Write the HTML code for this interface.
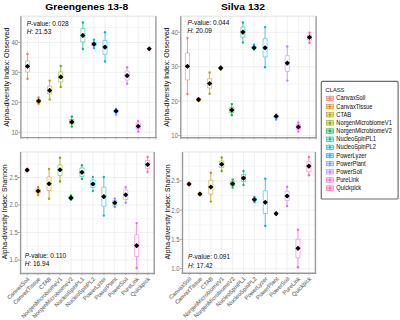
<!DOCTYPE html>
<html><head><meta charset="utf-8"><title>Alpha diversity</title>
<style>
html,body{margin:0;padding:0;background:#fff;}
body{width:400px;height:320px;overflow:hidden;}
svg{display:block;}
text{font-family:"Liberation Sans", sans-serif;}
.tk{font-size:6px;fill:#6e6e6e;text-anchor:end;}
.yl{fill:#111;stroke:#111;stroke-width:0.05px;}
.pv{font-size:6.5px;fill:#111;stroke:#111;stroke-width:0.03px;}
.xl{font-size:5.7px;fill:#6e6e6e;stroke:#6e6e6e;stroke-width:0.1px;}
.ti{font-size:10.2px;font-weight:bold;fill:#000;}
.lg{font-size:5.75px;fill:#1a1a1a;stroke:#1a1a1a;stroke-width:0.05px;}
</style></head>
<body>
<svg width="400" height="320" viewBox="0 0 400 320">
<rect x="0" y="0" width="400" height="320" fill="#fff"/>
<line x1="20.9" y1="117.33" x2="155.9" y2="117.33" stroke="#ececec" stroke-width="0.5"/>
<line x1="20.9" y1="87.4" x2="155.9" y2="87.4" stroke="#ececec" stroke-width="0.5"/>
<line x1="20.9" y1="57.47" x2="155.9" y2="57.47" stroke="#ececec" stroke-width="0.5"/>
<line x1="20.9" y1="27.53" x2="155.9" y2="27.53" stroke="#ececec" stroke-width="0.5"/>
<line x1="20.9" y1="132.3" x2="155.9" y2="132.3" stroke="#ececec" stroke-width="0.8"/>
<line x1="20.9" y1="102.37" x2="155.9" y2="102.37" stroke="#ececec" stroke-width="0.8"/>
<line x1="20.9" y1="72.43" x2="155.9" y2="72.43" stroke="#ececec" stroke-width="0.8"/>
<line x1="20.9" y1="42.5" x2="155.9" y2="42.5" stroke="#ececec" stroke-width="0.8"/>
<line x1="27.54" y1="16.2" x2="27.54" y2="137.6" stroke="#ececec" stroke-width="0.8"/>
<line x1="38.6" y1="16.2" x2="38.6" y2="137.6" stroke="#ececec" stroke-width="0.8"/>
<line x1="49.67" y1="16.2" x2="49.67" y2="137.6" stroke="#ececec" stroke-width="0.8"/>
<line x1="60.74" y1="16.2" x2="60.74" y2="137.6" stroke="#ececec" stroke-width="0.8"/>
<line x1="71.8" y1="16.2" x2="71.8" y2="137.6" stroke="#ececec" stroke-width="0.8"/>
<line x1="82.87" y1="16.2" x2="82.87" y2="137.6" stroke="#ececec" stroke-width="0.8"/>
<line x1="93.93" y1="16.2" x2="93.93" y2="137.6" stroke="#ececec" stroke-width="0.8"/>
<line x1="105" y1="16.2" x2="105" y2="137.6" stroke="#ececec" stroke-width="0.8"/>
<line x1="116.06" y1="16.2" x2="116.06" y2="137.6" stroke="#ececec" stroke-width="0.8"/>
<line x1="127.13" y1="16.2" x2="127.13" y2="137.6" stroke="#ececec" stroke-width="0.8"/>
<line x1="138.2" y1="16.2" x2="138.2" y2="137.6" stroke="#ececec" stroke-width="0.8"/>
<line x1="149.26" y1="16.2" x2="149.26" y2="137.6" stroke="#ececec" stroke-width="0.8"/>
<line x1="20.9" y1="16.2" x2="155.9" y2="16.2" stroke="#dcdcdc" stroke-width="0.8"/>
<line x1="155.9" y1="16.2" x2="155.9" y2="138.4" stroke="#9a9a9a" stroke-width="1.4"/>
<line x1="20.9" y1="16.2" x2="20.9" y2="138.4" stroke="#9a9a9a" stroke-width="1.4"/>
<line x1="20.1" y1="137.6" x2="156.7" y2="137.6" stroke="#9a9a9a" stroke-width="1.4"/>
<line x1="18.3" y1="132.3" x2="20.9" y2="132.3" stroke="#9a9a9a" stroke-width="0.8"/>
<text transform="translate(18.1,134.75) scale(1,1.15)" class="tk">10</text>
<line x1="18.3" y1="102.37" x2="20.9" y2="102.37" stroke="#9a9a9a" stroke-width="0.8"/>
<text transform="translate(18.1,104.82) scale(1,1.15)" class="tk">20</text>
<line x1="18.3" y1="72.43" x2="20.9" y2="72.43" stroke="#9a9a9a" stroke-width="0.8"/>
<text transform="translate(18.1,74.88) scale(1,1.15)" class="tk">30</text>
<line x1="18.3" y1="42.5" x2="20.9" y2="42.5" stroke="#9a9a9a" stroke-width="0.8"/>
<text transform="translate(18.1,44.95) scale(1,1.15)" class="tk">40</text>
<line x1="27.54" y1="137.6" x2="27.54" y2="139.2" stroke="#9a9a9a" stroke-width="0.8"/>
<line x1="38.6" y1="137.6" x2="38.6" y2="139.2" stroke="#9a9a9a" stroke-width="0.8"/>
<line x1="49.67" y1="137.6" x2="49.67" y2="139.2" stroke="#9a9a9a" stroke-width="0.8"/>
<line x1="60.74" y1="137.6" x2="60.74" y2="139.2" stroke="#9a9a9a" stroke-width="0.8"/>
<line x1="71.8" y1="137.6" x2="71.8" y2="139.2" stroke="#9a9a9a" stroke-width="0.8"/>
<line x1="82.87" y1="137.6" x2="82.87" y2="139.2" stroke="#9a9a9a" stroke-width="0.8"/>
<line x1="93.93" y1="137.6" x2="93.93" y2="139.2" stroke="#9a9a9a" stroke-width="0.8"/>
<line x1="105" y1="137.6" x2="105" y2="139.2" stroke="#9a9a9a" stroke-width="0.8"/>
<line x1="116.06" y1="137.6" x2="116.06" y2="139.2" stroke="#9a9a9a" stroke-width="0.8"/>
<line x1="127.13" y1="137.6" x2="127.13" y2="139.2" stroke="#9a9a9a" stroke-width="0.8"/>
<line x1="138.2" y1="137.6" x2="138.2" y2="139.2" stroke="#9a9a9a" stroke-width="0.8"/>
<line x1="149.26" y1="137.6" x2="149.26" y2="139.2" stroke="#9a9a9a" stroke-width="0.8"/>
<line x1="27.54" y1="54" x2="27.54" y2="61" stroke="#F8766D" stroke-width="0.7"/>
<line x1="27.54" y1="71.9" x2="27.54" y2="78.75" stroke="#F8766D" stroke-width="0.7"/>
<path d="M25.49 61L25.49 66.25L26.51 66.25L25.49 66.25L25.49 71.9L29.59 71.9L29.59 66.25L28.56 66.25L29.59 66.25L29.59 61Z" fill="#fff" fill-opacity="0.9" stroke="#F8766D" stroke-opacity="0.8" stroke-width="0.65" stroke-linejoin="round"/>
<line x1="25.49" y1="66.25" x2="29.59" y2="66.25" stroke="#F8766D" stroke-opacity="0.8" stroke-width="0.65"/>
<circle cx="27.54" cy="54" r="1.2" fill="#F8766D"/>
<circle cx="27.54" cy="78.75" r="1.2" fill="#F8766D"/>
<circle cx="27.54" cy="66.85" r="1.6" fill="#F8766D"/>
<path d="M27.54 63.7L30.09 66.25L27.54 68.8L24.99 66.25Z" fill="#000"/>
<line x1="38.6" y1="97.5" x2="38.6" y2="99.3" stroke="#DE8C00" stroke-width="0.7"/>
<line x1="38.6" y1="102.7" x2="38.6" y2="103.8" stroke="#DE8C00" stroke-width="0.7"/>
<path d="M36.55 99.3L36.55 101L37.58 101L36.55 101L36.55 102.7L40.65 102.7L40.65 101L39.63 101L40.65 101L40.65 99.3Z" fill="#fff" fill-opacity="0.9" stroke="#DE8C00" stroke-opacity="0.8" stroke-width="0.65" stroke-linejoin="round"/>
<line x1="36.55" y1="101" x2="40.65" y2="101" stroke="#DE8C00" stroke-opacity="0.8" stroke-width="0.65"/>
<circle cx="38.6" cy="97.5" r="1.2" fill="#DE8C00"/>
<circle cx="38.6" cy="103.8" r="1.2" fill="#DE8C00"/>
<circle cx="38.6" cy="101.6" r="1.6" fill="#DE8C00"/>
<path d="M38.6 98.45L41.15 101L38.6 103.55L36.05 101Z" fill="#000"/>
<line x1="49.67" y1="80.6" x2="49.67" y2="86.25" stroke="#B79F00" stroke-width="0.7"/>
<line x1="49.67" y1="94" x2="49.67" y2="99.4" stroke="#B79F00" stroke-width="0.7"/>
<path d="M47.62 86.25L47.62 90.4L48.65 90.4L47.62 90.4L47.62 94L51.72 94L51.72 90.4L50.7 90.4L51.72 90.4L51.72 86.25Z" fill="#fff" fill-opacity="0.9" stroke="#B79F00" stroke-opacity="0.8" stroke-width="0.65" stroke-linejoin="round"/>
<line x1="47.62" y1="90.4" x2="51.72" y2="90.4" stroke="#B79F00" stroke-opacity="0.8" stroke-width="0.65"/>
<circle cx="49.67" cy="80.6" r="1.2" fill="#B79F00"/>
<circle cx="49.67" cy="99.4" r="1.2" fill="#B79F00"/>
<circle cx="49.67" cy="91" r="1.6" fill="#B79F00"/>
<path d="M49.67 87.85L52.22 90.4L49.67 92.95L47.12 90.4Z" fill="#000"/>
<line x1="60.74" y1="66" x2="60.74" y2="71.9" stroke="#7CAE00" stroke-width="0.7"/>
<line x1="60.74" y1="81.9" x2="60.74" y2="86.9" stroke="#7CAE00" stroke-width="0.7"/>
<path d="M58.69 71.9L58.69 76.9L59.71 76.9L58.69 76.9L58.69 81.9L62.79 81.9L62.79 76.9L61.76 76.9L62.79 76.9L62.79 71.9Z" fill="#fff" fill-opacity="0.9" stroke="#7CAE00" stroke-opacity="0.8" stroke-width="0.65" stroke-linejoin="round"/>
<line x1="58.69" y1="76.9" x2="62.79" y2="76.9" stroke="#7CAE00" stroke-opacity="0.8" stroke-width="0.65"/>
<circle cx="60.74" cy="66" r="1.2" fill="#7CAE00"/>
<circle cx="60.74" cy="86.9" r="1.2" fill="#7CAE00"/>
<circle cx="60.74" cy="77.5" r="1.6" fill="#7CAE00"/>
<path d="M60.74 74.35L63.29 76.9L60.74 79.45L58.19 76.9Z" fill="#000"/>
<line x1="71.8" y1="116.6" x2="71.8" y2="119.5" stroke="#00BA38" stroke-width="0.7"/>
<line x1="71.8" y1="124" x2="71.8" y2="126.6" stroke="#00BA38" stroke-width="0.7"/>
<path d="M69.75 119.5L69.75 121.9L70.78 121.9L69.75 121.9L69.75 124L73.85 124L73.85 121.9L72.83 121.9L73.85 121.9L73.85 119.5Z" fill="#fff" fill-opacity="0.9" stroke="#00BA38" stroke-opacity="0.8" stroke-width="0.65" stroke-linejoin="round"/>
<line x1="69.75" y1="121.9" x2="73.85" y2="121.9" stroke="#00BA38" stroke-opacity="0.8" stroke-width="0.65"/>
<circle cx="71.8" cy="116.6" r="1.2" fill="#00BA38"/>
<circle cx="71.8" cy="126.6" r="1.2" fill="#00BA38"/>
<circle cx="71.8" cy="122.5" r="1.6" fill="#00BA38"/>
<path d="M71.8 119.35L74.35 121.9L71.8 124.45L69.25 121.9Z" fill="#000"/>
<line x1="82.87" y1="22.5" x2="82.87" y2="28.5" stroke="#00C08B" stroke-width="0.7"/>
<line x1="82.87" y1="41.9" x2="82.87" y2="49" stroke="#00C08B" stroke-width="0.7"/>
<path d="M80.82 28.5L80.82 35.4L81.84 35.4L80.82 35.4L80.82 41.9L84.92 41.9L84.92 35.4L83.89 35.4L84.92 35.4L84.92 28.5Z" fill="#fff" fill-opacity="0.9" stroke="#00C08B" stroke-opacity="0.8" stroke-width="0.65" stroke-linejoin="round"/>
<line x1="80.82" y1="35.4" x2="84.92" y2="35.4" stroke="#00C08B" stroke-opacity="0.8" stroke-width="0.65"/>
<circle cx="82.87" cy="22.5" r="1.2" fill="#00C08B"/>
<circle cx="82.87" cy="49" r="1.2" fill="#00C08B"/>
<circle cx="82.87" cy="36" r="1.6" fill="#00C08B"/>
<path d="M82.87 32.85L85.42 35.4L82.87 37.95L80.32 35.4Z" fill="#000"/>
<line x1="93.93" y1="39.75" x2="93.93" y2="42" stroke="#00BFC4" stroke-width="0.7"/>
<line x1="93.93" y1="46" x2="93.93" y2="48.1" stroke="#00BFC4" stroke-width="0.7"/>
<path d="M91.88 42L91.88 44.1L92.91 44.1L91.88 44.1L91.88 46L95.98 46L95.98 44.1L94.96 44.1L95.98 44.1L95.98 42Z" fill="#fff" fill-opacity="0.9" stroke="#00BFC4" stroke-opacity="0.8" stroke-width="0.65" stroke-linejoin="round"/>
<line x1="91.88" y1="44.1" x2="95.98" y2="44.1" stroke="#00BFC4" stroke-opacity="0.8" stroke-width="0.65"/>
<circle cx="93.93" cy="39.75" r="1.2" fill="#00BFC4"/>
<circle cx="93.93" cy="48.1" r="1.2" fill="#00BFC4"/>
<circle cx="93.93" cy="44.7" r="1.6" fill="#00BFC4"/>
<path d="M93.93 41.55L96.48 44.1L93.93 46.65L91.38 44.1Z" fill="#000"/>
<line x1="105" y1="32.25" x2="105" y2="40.6" stroke="#00B4F0" stroke-width="0.7"/>
<line x1="105" y1="54.4" x2="105" y2="61.5" stroke="#00B4F0" stroke-width="0.7"/>
<path d="M102.95 40.6L102.95 47.1L103.97 47.1L102.95 47.1L102.95 54.4L107.05 54.4L107.05 47.1L106.02 47.1L107.05 47.1L107.05 40.6Z" fill="#fff" fill-opacity="0.9" stroke="#00B4F0" stroke-opacity="0.8" stroke-width="0.65" stroke-linejoin="round"/>
<line x1="102.95" y1="47.1" x2="107.05" y2="47.1" stroke="#00B4F0" stroke-opacity="0.8" stroke-width="0.65"/>
<circle cx="105" cy="32.25" r="1.2" fill="#00B4F0"/>
<circle cx="105" cy="61.5" r="1.2" fill="#00B4F0"/>
<circle cx="105" cy="47.7" r="1.6" fill="#00B4F0"/>
<path d="M105 44.55L107.55 47.1L105 49.65L102.45 47.1Z" fill="#000"/>
<line x1="116.06" y1="109" x2="116.06" y2="110" stroke="#619CFF" stroke-width="0.7"/>
<line x1="116.06" y1="112.5" x2="116.06" y2="114.5" stroke="#619CFF" stroke-width="0.7"/>
<path d="M114.01 110L114.01 111L115.04 111L114.01 111L114.01 112.5L118.11 112.5L118.11 111L117.09 111L118.11 111L118.11 110Z" fill="#fff" fill-opacity="0.9" stroke="#619CFF" stroke-opacity="0.8" stroke-width="0.65" stroke-linejoin="round"/>
<line x1="114.01" y1="111" x2="118.11" y2="111" stroke="#619CFF" stroke-opacity="0.8" stroke-width="0.65"/>
<circle cx="116.06" cy="109" r="1.2" fill="#619CFF"/>
<circle cx="116.06" cy="114.5" r="1.2" fill="#619CFF"/>
<circle cx="116.06" cy="111.6" r="1.6" fill="#619CFF"/>
<path d="M116.06 108.45L118.61 111L116.06 113.55L113.51 111Z" fill="#000"/>
<line x1="127.13" y1="67.25" x2="127.13" y2="71" stroke="#C77CFF" stroke-width="0.7"/>
<line x1="127.13" y1="80" x2="127.13" y2="83.75" stroke="#C77CFF" stroke-width="0.7"/>
<path d="M125.08 71L125.08 75.6L126.1 75.6L125.08 75.6L125.08 80L129.18 80L129.18 75.6L128.15 75.6L129.18 75.6L129.18 71Z" fill="#fff" fill-opacity="0.9" stroke="#C77CFF" stroke-opacity="0.8" stroke-width="0.65" stroke-linejoin="round"/>
<line x1="125.08" y1="75.6" x2="129.18" y2="75.6" stroke="#C77CFF" stroke-opacity="0.8" stroke-width="0.65"/>
<circle cx="127.13" cy="67.25" r="1.2" fill="#C77CFF"/>
<circle cx="127.13" cy="83.75" r="1.2" fill="#C77CFF"/>
<circle cx="127.13" cy="76.2" r="1.6" fill="#C77CFF"/>
<path d="M127.13 73.05L129.68 75.6L127.13 78.15L124.58 75.6Z" fill="#000"/>
<line x1="138.2" y1="120.9" x2="138.2" y2="123" stroke="#F564E3" stroke-width="0.7"/>
<line x1="138.2" y1="129" x2="138.2" y2="131.6" stroke="#F564E3" stroke-width="0.7"/>
<path d="M136.15 123L136.15 126.25L137.17 126.25L136.15 126.25L136.15 129L140.25 129L140.25 126.25L139.22 126.25L140.25 126.25L140.25 123Z" fill="#fff" fill-opacity="0.9" stroke="#F564E3" stroke-opacity="0.8" stroke-width="0.65" stroke-linejoin="round"/>
<line x1="136.15" y1="126.25" x2="140.25" y2="126.25" stroke="#F564E3" stroke-opacity="0.8" stroke-width="0.65"/>
<circle cx="138.2" cy="120.9" r="1.2" fill="#F564E3"/>
<circle cx="138.2" cy="131.6" r="1.2" fill="#F564E3"/>
<circle cx="138.2" cy="126.85" r="1.6" fill="#F564E3"/>
<path d="M138.2 123.7L140.75 126.25L138.2 128.8L135.65 126.25Z" fill="#000"/>
<circle cx="149.26" cy="49.35" r="1.6" fill="#FF64B0"/>
<path d="M149.26 46.2L151.81 48.75L149.26 51.3L146.71 48.75Z" fill="#000"/>
<text transform="translate(9.3,77.2) rotate(-90)" text-anchor="middle" class="yl" font-size="7.0">Alpha-diversity Index: Observed</text>
<text x="26.7" y="26.4" class="pv"><tspan font-style="italic">P</tspan>-value: 0.028</text>
<text x="26.7" y="34.3" class="pv"><tspan font-style="italic">H</tspan>: 21.53</text>
<line x1="180.8" y1="118.3" x2="316.1" y2="118.3" stroke="#ececec" stroke-width="0.5"/>
<line x1="180.8" y1="83.9" x2="316.1" y2="83.9" stroke="#ececec" stroke-width="0.5"/>
<line x1="180.8" y1="49.5" x2="316.1" y2="49.5" stroke="#ececec" stroke-width="0.5"/>
<line x1="180.8" y1="135.5" x2="316.1" y2="135.5" stroke="#ececec" stroke-width="0.8"/>
<line x1="180.8" y1="101.1" x2="316.1" y2="101.1" stroke="#ececec" stroke-width="0.8"/>
<line x1="180.8" y1="66.7" x2="316.1" y2="66.7" stroke="#ececec" stroke-width="0.8"/>
<line x1="180.8" y1="32.3" x2="316.1" y2="32.3" stroke="#ececec" stroke-width="0.8"/>
<line x1="187.45" y1="16.2" x2="187.45" y2="137.7" stroke="#ececec" stroke-width="0.8"/>
<line x1="198.54" y1="16.2" x2="198.54" y2="137.7" stroke="#ececec" stroke-width="0.8"/>
<line x1="209.63" y1="16.2" x2="209.63" y2="137.7" stroke="#ececec" stroke-width="0.8"/>
<line x1="220.72" y1="16.2" x2="220.72" y2="137.7" stroke="#ececec" stroke-width="0.8"/>
<line x1="231.81" y1="16.2" x2="231.81" y2="137.7" stroke="#ececec" stroke-width="0.8"/>
<line x1="242.9" y1="16.2" x2="242.9" y2="137.7" stroke="#ececec" stroke-width="0.8"/>
<line x1="254" y1="16.2" x2="254" y2="137.7" stroke="#ececec" stroke-width="0.8"/>
<line x1="265.09" y1="16.2" x2="265.09" y2="137.7" stroke="#ececec" stroke-width="0.8"/>
<line x1="276.18" y1="16.2" x2="276.18" y2="137.7" stroke="#ececec" stroke-width="0.8"/>
<line x1="287.27" y1="16.2" x2="287.27" y2="137.7" stroke="#ececec" stroke-width="0.8"/>
<line x1="298.36" y1="16.2" x2="298.36" y2="137.7" stroke="#ececec" stroke-width="0.8"/>
<line x1="309.45" y1="16.2" x2="309.45" y2="137.7" stroke="#ececec" stroke-width="0.8"/>
<line x1="180.8" y1="16.2" x2="316.1" y2="16.2" stroke="#dcdcdc" stroke-width="0.8"/>
<line x1="316.1" y1="16.2" x2="316.1" y2="138.5" stroke="#9a9a9a" stroke-width="1.4"/>
<line x1="180.8" y1="16.2" x2="180.8" y2="138.5" stroke="#9a9a9a" stroke-width="1.4"/>
<line x1="180" y1="137.7" x2="316.9" y2="137.7" stroke="#9a9a9a" stroke-width="1.4"/>
<line x1="178.2" y1="135.5" x2="180.8" y2="135.5" stroke="#9a9a9a" stroke-width="0.8"/>
<text transform="translate(178,137.95) scale(1,1.15)" class="tk">10</text>
<line x1="178.2" y1="101.1" x2="180.8" y2="101.1" stroke="#9a9a9a" stroke-width="0.8"/>
<text transform="translate(178,103.55) scale(1,1.15)" class="tk">20</text>
<line x1="178.2" y1="66.7" x2="180.8" y2="66.7" stroke="#9a9a9a" stroke-width="0.8"/>
<text transform="translate(178,69.15) scale(1,1.15)" class="tk">30</text>
<line x1="178.2" y1="32.3" x2="180.8" y2="32.3" stroke="#9a9a9a" stroke-width="0.8"/>
<text transform="translate(178,34.75) scale(1,1.15)" class="tk">40</text>
<line x1="187.45" y1="137.7" x2="187.45" y2="139.3" stroke="#9a9a9a" stroke-width="0.8"/>
<line x1="198.54" y1="137.7" x2="198.54" y2="139.3" stroke="#9a9a9a" stroke-width="0.8"/>
<line x1="209.63" y1="137.7" x2="209.63" y2="139.3" stroke="#9a9a9a" stroke-width="0.8"/>
<line x1="220.72" y1="137.7" x2="220.72" y2="139.3" stroke="#9a9a9a" stroke-width="0.8"/>
<line x1="231.81" y1="137.7" x2="231.81" y2="139.3" stroke="#9a9a9a" stroke-width="0.8"/>
<line x1="242.9" y1="137.7" x2="242.9" y2="139.3" stroke="#9a9a9a" stroke-width="0.8"/>
<line x1="254" y1="137.7" x2="254" y2="139.3" stroke="#9a9a9a" stroke-width="0.8"/>
<line x1="265.09" y1="137.7" x2="265.09" y2="139.3" stroke="#9a9a9a" stroke-width="0.8"/>
<line x1="276.18" y1="137.7" x2="276.18" y2="139.3" stroke="#9a9a9a" stroke-width="0.8"/>
<line x1="287.27" y1="137.7" x2="287.27" y2="139.3" stroke="#9a9a9a" stroke-width="0.8"/>
<line x1="298.36" y1="137.7" x2="298.36" y2="139.3" stroke="#9a9a9a" stroke-width="0.8"/>
<line x1="309.45" y1="137.7" x2="309.45" y2="139.3" stroke="#9a9a9a" stroke-width="0.8"/>
<line x1="187.45" y1="38.1" x2="187.45" y2="53" stroke="#F8766D" stroke-width="0.7"/>
<line x1="187.45" y1="80" x2="187.45" y2="94" stroke="#F8766D" stroke-width="0.7"/>
<path d="M185.4 53L185.4 66.25L186.43 66.25L185.4 66.25L185.4 80L189.5 80L189.5 66.25L188.48 66.25L189.5 66.25L189.5 53Z" fill="#fff" fill-opacity="0.9" stroke="#F8766D" stroke-opacity="0.8" stroke-width="0.65" stroke-linejoin="round"/>
<line x1="185.4" y1="66.25" x2="189.5" y2="66.25" stroke="#F8766D" stroke-opacity="0.8" stroke-width="0.65"/>
<circle cx="187.45" cy="38.1" r="1.2" fill="#F8766D"/>
<circle cx="187.45" cy="94" r="1.2" fill="#F8766D"/>
<circle cx="187.45" cy="66.85" r="1.6" fill="#F8766D"/>
<path d="M187.45 63.7L190 66.25L187.45 68.8L184.9 66.25Z" fill="#000"/>
<line x1="198.54" y1="98.6" x2="198.54" y2="99" stroke="#DE8C00" stroke-width="0.7"/>
<line x1="198.54" y1="100.2" x2="198.54" y2="100.6" stroke="#DE8C00" stroke-width="0.7"/>
<path d="M196.49 99L196.49 99.6L197.52 99.6L196.49 99.6L196.49 100.2L200.59 100.2L200.59 99.6L199.57 99.6L200.59 99.6L200.59 99Z" fill="#fff" fill-opacity="0.9" stroke="#DE8C00" stroke-opacity="0.8" stroke-width="0.65" stroke-linejoin="round"/>
<line x1="196.49" y1="99.6" x2="200.59" y2="99.6" stroke="#DE8C00" stroke-opacity="0.8" stroke-width="0.65"/>
<circle cx="198.54" cy="98.6" r="1.2" fill="#DE8C00"/>
<circle cx="198.54" cy="100.6" r="1.2" fill="#DE8C00"/>
<circle cx="198.54" cy="100.2" r="1.6" fill="#DE8C00"/>
<circle cx="198.54" cy="99.6" r="2.35" fill="#DE8C00" fill-opacity="0.6"/>
<path d="M198.54 97.05L201.09 99.6L198.54 102.15L195.99 99.6Z" fill="#000"/>
<line x1="209.63" y1="72.5" x2="209.63" y2="78.75" stroke="#B79F00" stroke-width="0.7"/>
<line x1="209.63" y1="88.1" x2="209.63" y2="93.75" stroke="#B79F00" stroke-width="0.7"/>
<path d="M207.58 78.75L207.58 83.5L208.61 83.5L207.58 83.5L207.58 88.1L211.68 88.1L211.68 83.5L210.66 83.5L211.68 83.5L211.68 78.75Z" fill="#fff" fill-opacity="0.9" stroke="#B79F00" stroke-opacity="0.8" stroke-width="0.65" stroke-linejoin="round"/>
<line x1="207.58" y1="83.5" x2="211.68" y2="83.5" stroke="#B79F00" stroke-opacity="0.8" stroke-width="0.65"/>
<circle cx="209.63" cy="72.5" r="1.2" fill="#B79F00"/>
<circle cx="209.63" cy="93.75" r="1.2" fill="#B79F00"/>
<circle cx="209.63" cy="84.1" r="1.6" fill="#B79F00"/>
<path d="M209.63 80.95L212.18 83.5L209.63 86.05L207.08 83.5Z" fill="#000"/>
<line x1="220.72" y1="66.5" x2="220.72" y2="67.3" stroke="#7CAE00" stroke-width="0.7"/>
<line x1="220.72" y1="68.9" x2="220.72" y2="69.6" stroke="#7CAE00" stroke-width="0.7"/>
<path d="M218.67 67.3L218.67 68.1L219.7 68.1L218.67 68.1L218.67 68.9L222.77 68.9L222.77 68.1L221.75 68.1L222.77 68.1L222.77 67.3Z" fill="#fff" fill-opacity="0.9" stroke="#7CAE00" stroke-opacity="0.8" stroke-width="0.65" stroke-linejoin="round"/>
<line x1="218.67" y1="68.1" x2="222.77" y2="68.1" stroke="#7CAE00" stroke-opacity="0.8" stroke-width="0.65"/>
<circle cx="220.72" cy="66.5" r="1.2" fill="#7CAE00"/>
<circle cx="220.72" cy="69.6" r="1.2" fill="#7CAE00"/>
<circle cx="220.72" cy="68.7" r="1.6" fill="#7CAE00"/>
<path d="M220.72 65.55L223.27 68.1L220.72 70.65L218.17 68.1Z" fill="#000"/>
<line x1="231.81" y1="104.1" x2="231.81" y2="107.5" stroke="#00BA38" stroke-width="0.7"/>
<line x1="231.81" y1="112.5" x2="231.81" y2="115" stroke="#00BA38" stroke-width="0.7"/>
<path d="M229.76 107.5L229.76 110L230.79 110L229.76 110L229.76 112.5L233.86 112.5L233.86 110L232.84 110L233.86 110L233.86 107.5Z" fill="#fff" fill-opacity="0.9" stroke="#00BA38" stroke-opacity="0.8" stroke-width="0.65" stroke-linejoin="round"/>
<line x1="229.76" y1="110" x2="233.86" y2="110" stroke="#00BA38" stroke-opacity="0.8" stroke-width="0.65"/>
<circle cx="231.81" cy="104.1" r="1.2" fill="#00BA38"/>
<circle cx="231.81" cy="115" r="1.2" fill="#00BA38"/>
<circle cx="231.81" cy="110.6" r="1.6" fill="#00BA38"/>
<path d="M231.81 107.45L234.36 110L231.81 112.55L229.26 110Z" fill="#000"/>
<line x1="242.9" y1="22.5" x2="242.9" y2="26.9" stroke="#00C08B" stroke-width="0.7"/>
<line x1="242.9" y1="37.25" x2="242.9" y2="42.5" stroke="#00C08B" stroke-width="0.7"/>
<path d="M240.85 26.9L240.85 32.1L241.88 32.1L240.85 32.1L240.85 37.25L244.95 37.25L244.95 32.1L243.93 32.1L244.95 32.1L244.95 26.9Z" fill="#fff" fill-opacity="0.9" stroke="#00C08B" stroke-opacity="0.8" stroke-width="0.65" stroke-linejoin="round"/>
<line x1="240.85" y1="32.1" x2="244.95" y2="32.1" stroke="#00C08B" stroke-opacity="0.8" stroke-width="0.65"/>
<circle cx="242.9" cy="22.5" r="1.2" fill="#00C08B"/>
<circle cx="242.9" cy="42.5" r="1.2" fill="#00C08B"/>
<circle cx="242.9" cy="32.7" r="1.6" fill="#00C08B"/>
<path d="M242.9 29.55L245.45 32.1L242.9 34.65L240.35 32.1Z" fill="#000"/>
<line x1="254" y1="44.75" x2="254" y2="46.3" stroke="#00BFC4" stroke-width="0.7"/>
<line x1="254" y1="48.6" x2="254" y2="49.4" stroke="#00BFC4" stroke-width="0.7"/>
<path d="M251.95 46.3L251.95 47.75L252.97 47.75L251.95 47.75L251.95 48.6L256.05 48.6L256.05 47.75L255.02 47.75L256.05 47.75L256.05 46.3Z" fill="#fff" fill-opacity="0.9" stroke="#00BFC4" stroke-opacity="0.8" stroke-width="0.65" stroke-linejoin="round"/>
<line x1="251.95" y1="47.75" x2="256.05" y2="47.75" stroke="#00BFC4" stroke-opacity="0.8" stroke-width="0.65"/>
<circle cx="254" cy="44.75" r="1.2" fill="#00BFC4"/>
<circle cx="254" cy="49.4" r="1.2" fill="#00BFC4"/>
<circle cx="254" cy="48.35" r="1.6" fill="#00BFC4"/>
<path d="M254 45.2L256.55 47.75L254 50.3L251.45 47.75Z" fill="#000"/>
<line x1="265.09" y1="27.1" x2="265.09" y2="38.75" stroke="#00B4F0" stroke-width="0.7"/>
<line x1="265.09" y1="56.9" x2="265.09" y2="67.25" stroke="#00B4F0" stroke-width="0.7"/>
<path d="M263.04 38.75L263.04 47.75L264.06 47.75L263.04 47.75L263.04 56.9L267.14 56.9L267.14 47.75L266.11 47.75L267.14 47.75L267.14 38.75Z" fill="#fff" fill-opacity="0.9" stroke="#00B4F0" stroke-opacity="0.8" stroke-width="0.65" stroke-linejoin="round"/>
<line x1="263.04" y1="47.75" x2="267.14" y2="47.75" stroke="#00B4F0" stroke-opacity="0.8" stroke-width="0.65"/>
<circle cx="265.09" cy="27.1" r="1.2" fill="#00B4F0"/>
<circle cx="265.09" cy="67.25" r="1.2" fill="#00B4F0"/>
<circle cx="265.09" cy="48.35" r="1.6" fill="#00B4F0"/>
<path d="M265.09 45.2L267.64 47.75L265.09 50.3L262.54 47.75Z" fill="#000"/>
<line x1="276.18" y1="114.8" x2="276.18" y2="115.5" stroke="#619CFF" stroke-width="0.7"/>
<line x1="276.18" y1="118" x2="276.18" y2="119.6" stroke="#619CFF" stroke-width="0.7"/>
<path d="M274.13 115.5L274.13 116.25L275.15 116.25L274.13 116.25L274.13 118L278.23 118L278.23 116.25L277.2 116.25L278.23 116.25L278.23 115.5Z" fill="#fff" fill-opacity="0.9" stroke="#619CFF" stroke-opacity="0.8" stroke-width="0.65" stroke-linejoin="round"/>
<line x1="274.13" y1="116.25" x2="278.23" y2="116.25" stroke="#619CFF" stroke-opacity="0.8" stroke-width="0.65"/>
<circle cx="276.18" cy="114.8" r="1.2" fill="#619CFF"/>
<circle cx="276.18" cy="119.6" r="1.2" fill="#619CFF"/>
<circle cx="276.18" cy="116.85" r="1.6" fill="#619CFF"/>
<path d="M276.18 113.7L278.73 116.25L276.18 118.8L273.63 116.25Z" fill="#000"/>
<line x1="287.27" y1="46.5" x2="287.27" y2="55.6" stroke="#C77CFF" stroke-width="0.7"/>
<line x1="287.27" y1="71.5" x2="287.27" y2="80.6" stroke="#C77CFF" stroke-width="0.7"/>
<path d="M285.22 55.6L285.22 63.1L286.24 63.1L285.22 63.1L285.22 71.5L289.32 71.5L289.32 63.1L288.29 63.1L289.32 63.1L289.32 55.6Z" fill="#fff" fill-opacity="0.9" stroke="#C77CFF" stroke-opacity="0.8" stroke-width="0.65" stroke-linejoin="round"/>
<line x1="285.22" y1="63.1" x2="289.32" y2="63.1" stroke="#C77CFF" stroke-opacity="0.8" stroke-width="0.65"/>
<circle cx="287.27" cy="46.5" r="1.2" fill="#C77CFF"/>
<circle cx="287.27" cy="80.6" r="1.2" fill="#C77CFF"/>
<circle cx="287.27" cy="63.7" r="1.6" fill="#C77CFF"/>
<path d="M287.27 60.55L289.82 63.1L287.27 65.65L284.72 63.1Z" fill="#000"/>
<line x1="298.36" y1="122.5" x2="298.36" y2="124.5" stroke="#F564E3" stroke-width="0.7"/>
<line x1="298.36" y1="129.5" x2="298.36" y2="131.5" stroke="#F564E3" stroke-width="0.7"/>
<path d="M296.31 124.5L296.31 126.9L297.33 126.9L296.31 126.9L296.31 129.5L300.41 129.5L300.41 126.9L299.38 126.9L300.41 126.9L300.41 124.5Z" fill="#fff" fill-opacity="0.9" stroke="#F564E3" stroke-opacity="0.8" stroke-width="0.65" stroke-linejoin="round"/>
<line x1="296.31" y1="126.9" x2="300.41" y2="126.9" stroke="#F564E3" stroke-opacity="0.8" stroke-width="0.65"/>
<circle cx="298.36" cy="122.5" r="1.2" fill="#F564E3"/>
<circle cx="298.36" cy="131.5" r="1.2" fill="#F564E3"/>
<circle cx="298.36" cy="127.5" r="1.6" fill="#F564E3"/>
<path d="M298.36 124.35L300.91 126.9L298.36 129.45L295.81 126.9Z" fill="#000"/>
<line x1="309.45" y1="32.65" x2="309.45" y2="35" stroke="#FF64B0" stroke-width="0.7"/>
<line x1="309.45" y1="40" x2="309.45" y2="42.8" stroke="#FF64B0" stroke-width="0.7"/>
<path d="M307.4 35L307.4 37.3L308.42 37.3L307.4 37.3L307.4 40L311.5 40L311.5 37.3L310.47 37.3L311.5 37.3L311.5 35Z" fill="#fff" fill-opacity="0.9" stroke="#FF64B0" stroke-opacity="0.8" stroke-width="0.65" stroke-linejoin="round"/>
<line x1="307.4" y1="37.3" x2="311.5" y2="37.3" stroke="#FF64B0" stroke-opacity="0.8" stroke-width="0.65"/>
<circle cx="309.45" cy="32.65" r="1.2" fill="#FF64B0"/>
<circle cx="309.45" cy="42.8" r="1.2" fill="#FF64B0"/>
<circle cx="309.45" cy="37.9" r="1.6" fill="#FF64B0"/>
<path d="M309.45 34.75L312 37.3L309.45 39.85L306.9 37.3Z" fill="#000"/>
<text transform="translate(169.2,77.1) rotate(-90)" text-anchor="middle" class="yl" font-size="7.0">Alpha-diversity Index: Observed</text>
<text x="187.4" y="24.8" class="pv"><tspan font-style="italic">P</tspan>-value: 0.044</text>
<text x="187.4" y="33.1" class="pv"><tspan font-style="italic">H</tspan>: 20.09</text>
<line x1="20.6" y1="246.25" x2="154.2" y2="246.25" stroke="#ececec" stroke-width="0.5"/>
<line x1="20.6" y1="218.75" x2="154.2" y2="218.75" stroke="#ececec" stroke-width="0.5"/>
<line x1="20.6" y1="191.25" x2="154.2" y2="191.25" stroke="#ececec" stroke-width="0.5"/>
<line x1="20.6" y1="163.75" x2="154.2" y2="163.75" stroke="#ececec" stroke-width="0.5"/>
<line x1="20.6" y1="260" x2="154.2" y2="260" stroke="#ececec" stroke-width="0.8"/>
<line x1="20.6" y1="232.5" x2="154.2" y2="232.5" stroke="#ececec" stroke-width="0.8"/>
<line x1="20.6" y1="205" x2="154.2" y2="205" stroke="#ececec" stroke-width="0.8"/>
<line x1="20.6" y1="177.5" x2="154.2" y2="177.5" stroke="#ececec" stroke-width="0.8"/>
<line x1="27.17" y1="152" x2="27.17" y2="273.5" stroke="#ececec" stroke-width="0.8"/>
<line x1="38.12" y1="152" x2="38.12" y2="273.5" stroke="#ececec" stroke-width="0.8"/>
<line x1="49.07" y1="152" x2="49.07" y2="273.5" stroke="#ececec" stroke-width="0.8"/>
<line x1="60.02" y1="152" x2="60.02" y2="273.5" stroke="#ececec" stroke-width="0.8"/>
<line x1="70.97" y1="152" x2="70.97" y2="273.5" stroke="#ececec" stroke-width="0.8"/>
<line x1="81.92" y1="152" x2="81.92" y2="273.5" stroke="#ececec" stroke-width="0.8"/>
<line x1="92.88" y1="152" x2="92.88" y2="273.5" stroke="#ececec" stroke-width="0.8"/>
<line x1="103.83" y1="152" x2="103.83" y2="273.5" stroke="#ececec" stroke-width="0.8"/>
<line x1="114.78" y1="152" x2="114.78" y2="273.5" stroke="#ececec" stroke-width="0.8"/>
<line x1="125.73" y1="152" x2="125.73" y2="273.5" stroke="#ececec" stroke-width="0.8"/>
<line x1="136.68" y1="152" x2="136.68" y2="273.5" stroke="#ececec" stroke-width="0.8"/>
<line x1="147.63" y1="152" x2="147.63" y2="273.5" stroke="#ececec" stroke-width="0.8"/>
<line x1="20.6" y1="152" x2="154.2" y2="152" stroke="#dcdcdc" stroke-width="0.8"/>
<line x1="154.2" y1="152" x2="154.2" y2="274.3" stroke="#9a9a9a" stroke-width="1.4"/>
<line x1="20.6" y1="152" x2="20.6" y2="274.3" stroke="#9a9a9a" stroke-width="1.4"/>
<line x1="19.8" y1="273.5" x2="155" y2="273.5" stroke="#9a9a9a" stroke-width="1.4"/>
<line x1="18" y1="260" x2="20.6" y2="260" stroke="#9a9a9a" stroke-width="0.8"/>
<text transform="translate(17.8,262.45) scale(1,1.15)" class="tk">1.0</text>
<line x1="18" y1="232.5" x2="20.6" y2="232.5" stroke="#9a9a9a" stroke-width="0.8"/>
<text transform="translate(17.8,234.95) scale(1,1.15)" class="tk">1.5</text>
<line x1="18" y1="205" x2="20.6" y2="205" stroke="#9a9a9a" stroke-width="0.8"/>
<text transform="translate(17.8,207.45) scale(1,1.15)" class="tk">2.0</text>
<line x1="18" y1="177.5" x2="20.6" y2="177.5" stroke="#9a9a9a" stroke-width="0.8"/>
<text transform="translate(17.8,179.95) scale(1,1.15)" class="tk">2.5</text>
<line x1="27.17" y1="273.5" x2="27.17" y2="275.1" stroke="#9a9a9a" stroke-width="0.8"/>
<line x1="38.12" y1="273.5" x2="38.12" y2="275.1" stroke="#9a9a9a" stroke-width="0.8"/>
<line x1="49.07" y1="273.5" x2="49.07" y2="275.1" stroke="#9a9a9a" stroke-width="0.8"/>
<line x1="60.02" y1="273.5" x2="60.02" y2="275.1" stroke="#9a9a9a" stroke-width="0.8"/>
<line x1="70.97" y1="273.5" x2="70.97" y2="275.1" stroke="#9a9a9a" stroke-width="0.8"/>
<line x1="81.92" y1="273.5" x2="81.92" y2="275.1" stroke="#9a9a9a" stroke-width="0.8"/>
<line x1="92.88" y1="273.5" x2="92.88" y2="275.1" stroke="#9a9a9a" stroke-width="0.8"/>
<line x1="103.83" y1="273.5" x2="103.83" y2="275.1" stroke="#9a9a9a" stroke-width="0.8"/>
<line x1="114.78" y1="273.5" x2="114.78" y2="275.1" stroke="#9a9a9a" stroke-width="0.8"/>
<line x1="125.73" y1="273.5" x2="125.73" y2="275.1" stroke="#9a9a9a" stroke-width="0.8"/>
<line x1="136.68" y1="273.5" x2="136.68" y2="275.1" stroke="#9a9a9a" stroke-width="0.8"/>
<line x1="147.63" y1="273.5" x2="147.63" y2="275.1" stroke="#9a9a9a" stroke-width="0.8"/>
<circle cx="27.17" cy="170.6" r="1.6" fill="#F8766D"/>
<circle cx="27.17" cy="170" r="2.35" fill="#F8766D" fill-opacity="0.6"/>
<path d="M27.17 167.45L29.72 170L27.17 172.55L24.62 170Z" fill="#000"/>
<line x1="38.12" y1="186.9" x2="38.12" y2="189" stroke="#DE8C00" stroke-width="0.7"/>
<line x1="38.12" y1="193" x2="38.12" y2="195" stroke="#DE8C00" stroke-width="0.7"/>
<path d="M36.07 189L36.07 191L37.1 191L36.07 191L36.07 193L40.17 193L40.17 191L39.15 191L40.17 191L40.17 189Z" fill="#fff" fill-opacity="0.9" stroke="#DE8C00" stroke-opacity="0.8" stroke-width="0.65" stroke-linejoin="round"/>
<line x1="36.07" y1="191" x2="40.17" y2="191" stroke="#DE8C00" stroke-opacity="0.8" stroke-width="0.65"/>
<circle cx="38.12" cy="186.9" r="1.2" fill="#DE8C00"/>
<circle cx="38.12" cy="195" r="1.2" fill="#DE8C00"/>
<circle cx="38.12" cy="191.6" r="1.6" fill="#DE8C00"/>
<path d="M38.12 188.45L40.67 191L38.12 193.55L35.57 191Z" fill="#000"/>
<line x1="49.07" y1="169" x2="49.07" y2="176.9" stroke="#B79F00" stroke-width="0.7"/>
<line x1="49.07" y1="190.6" x2="49.07" y2="198.75" stroke="#B79F00" stroke-width="0.7"/>
<path d="M47.02 176.9L47.02 183.75L48.05 183.75L47.02 183.75L47.02 190.6L51.12 190.6L51.12 183.75L50.1 183.75L51.12 183.75L51.12 176.9Z" fill="#fff" fill-opacity="0.9" stroke="#B79F00" stroke-opacity="0.8" stroke-width="0.65" stroke-linejoin="round"/>
<line x1="47.02" y1="183.75" x2="51.12" y2="183.75" stroke="#B79F00" stroke-opacity="0.8" stroke-width="0.65"/>
<circle cx="49.07" cy="169" r="1.2" fill="#B79F00"/>
<circle cx="49.07" cy="198.75" r="1.2" fill="#B79F00"/>
<circle cx="49.07" cy="184.35" r="1.6" fill="#B79F00"/>
<path d="M49.07 181.2L51.62 183.75L49.07 186.3L46.52 183.75Z" fill="#000"/>
<line x1="60.02" y1="157.8" x2="60.02" y2="165" stroke="#7CAE00" stroke-width="0.7"/>
<line x1="60.02" y1="175.6" x2="60.02" y2="181.5" stroke="#7CAE00" stroke-width="0.7"/>
<path d="M57.97 165L57.97 169.75L59 169.75L57.97 169.75L57.97 175.6L62.07 175.6L62.07 169.75L61.05 169.75L62.07 169.75L62.07 165Z" fill="#fff" fill-opacity="0.9" stroke="#7CAE00" stroke-opacity="0.8" stroke-width="0.65" stroke-linejoin="round"/>
<line x1="57.97" y1="169.75" x2="62.07" y2="169.75" stroke="#7CAE00" stroke-opacity="0.8" stroke-width="0.65"/>
<circle cx="60.02" cy="157.8" r="1.2" fill="#7CAE00"/>
<circle cx="60.02" cy="181.5" r="1.2" fill="#7CAE00"/>
<circle cx="60.02" cy="170.35" r="1.6" fill="#7CAE00"/>
<path d="M60.02 167.2L62.57 169.75L60.02 172.3L57.47 169.75Z" fill="#000"/>
<line x1="70.97" y1="195.5" x2="70.97" y2="196.5" stroke="#00BA38" stroke-width="0.7"/>
<line x1="70.97" y1="198.8" x2="70.97" y2="199.5" stroke="#00BA38" stroke-width="0.7"/>
<path d="M68.92 196.5L68.92 197.9L69.95 197.9L68.92 197.9L68.92 198.8L73.02 198.8L73.02 197.9L72 197.9L73.02 197.9L73.02 196.5Z" fill="#fff" fill-opacity="0.9" stroke="#00BA38" stroke-opacity="0.8" stroke-width="0.65" stroke-linejoin="round"/>
<line x1="68.92" y1="197.9" x2="73.02" y2="197.9" stroke="#00BA38" stroke-opacity="0.8" stroke-width="0.65"/>
<circle cx="70.97" cy="195.5" r="1.2" fill="#00BA38"/>
<circle cx="70.97" cy="199.5" r="1.2" fill="#00BA38"/>
<circle cx="70.97" cy="198.5" r="1.6" fill="#00BA38"/>
<path d="M70.97 195.35L73.52 197.9L70.97 200.45L68.42 197.9Z" fill="#000"/>
<line x1="81.92" y1="165.2" x2="81.92" y2="168" stroke="#00C08B" stroke-width="0.7"/>
<line x1="81.92" y1="176.5" x2="81.92" y2="178.9" stroke="#00C08B" stroke-width="0.7"/>
<path d="M79.87 168L79.87 172.2L80.9 172.2L79.87 172.2L79.87 176.5L83.97 176.5L83.97 172.2L82.95 172.2L83.97 172.2L83.97 168Z" fill="#fff" fill-opacity="0.9" stroke="#00C08B" stroke-opacity="0.8" stroke-width="0.65" stroke-linejoin="round"/>
<line x1="79.87" y1="172.2" x2="83.97" y2="172.2" stroke="#00C08B" stroke-opacity="0.8" stroke-width="0.65"/>
<circle cx="81.92" cy="165.2" r="1.2" fill="#00C08B"/>
<circle cx="81.92" cy="178.9" r="1.2" fill="#00C08B"/>
<circle cx="81.92" cy="172.8" r="1.6" fill="#00C08B"/>
<path d="M81.92 169.65L84.47 172.2L81.92 174.75L79.37 172.2Z" fill="#000"/>
<line x1="92.88" y1="176.9" x2="92.88" y2="180" stroke="#00BFC4" stroke-width="0.7"/>
<line x1="92.88" y1="187.5" x2="92.88" y2="191" stroke="#00BFC4" stroke-width="0.7"/>
<path d="M90.83 180L90.83 184L91.85 184L90.83 184L90.83 187.5L94.93 187.5L94.93 184L93.9 184L94.93 184L94.93 180Z" fill="#fff" fill-opacity="0.9" stroke="#00BFC4" stroke-opacity="0.8" stroke-width="0.65" stroke-linejoin="round"/>
<line x1="90.83" y1="184" x2="94.93" y2="184" stroke="#00BFC4" stroke-opacity="0.8" stroke-width="0.65"/>
<circle cx="92.88" cy="176.9" r="1.2" fill="#00BFC4"/>
<circle cx="92.88" cy="191" r="1.2" fill="#00BFC4"/>
<circle cx="92.88" cy="184.6" r="1.6" fill="#00BFC4"/>
<path d="M92.88 181.45L95.43 184L92.88 186.55L90.33 184Z" fill="#000"/>
<line x1="103.83" y1="177" x2="103.83" y2="187.2" stroke="#00B4F0" stroke-width="0.7"/>
<line x1="103.83" y1="206.25" x2="103.83" y2="215.6" stroke="#00B4F0" stroke-width="0.7"/>
<path d="M101.78 187.2L101.78 196.6L102.8 196.6L101.78 196.6L101.78 206.25L105.88 206.25L105.88 196.6L104.85 196.6L105.88 196.6L105.88 187.2Z" fill="#fff" fill-opacity="0.9" stroke="#00B4F0" stroke-opacity="0.8" stroke-width="0.65" stroke-linejoin="round"/>
<line x1="101.78" y1="196.6" x2="105.88" y2="196.6" stroke="#00B4F0" stroke-opacity="0.8" stroke-width="0.65"/>
<circle cx="103.83" cy="177" r="1.2" fill="#00B4F0"/>
<circle cx="103.83" cy="215.6" r="1.2" fill="#00B4F0"/>
<circle cx="103.83" cy="197.2" r="1.6" fill="#00B4F0"/>
<path d="M103.83 194.05L106.38 196.6L103.83 199.15L101.28 196.6Z" fill="#000"/>
<line x1="114.78" y1="198.6" x2="114.78" y2="200.5" stroke="#619CFF" stroke-width="0.7"/>
<line x1="114.78" y1="205" x2="114.78" y2="207" stroke="#619CFF" stroke-width="0.7"/>
<path d="M112.73 200.5L112.73 202.8L113.75 202.8L112.73 202.8L112.73 205L116.83 205L116.83 202.8L115.8 202.8L116.83 202.8L116.83 200.5Z" fill="#fff" fill-opacity="0.9" stroke="#619CFF" stroke-opacity="0.8" stroke-width="0.65" stroke-linejoin="round"/>
<line x1="112.73" y1="202.8" x2="116.83" y2="202.8" stroke="#619CFF" stroke-opacity="0.8" stroke-width="0.65"/>
<circle cx="114.78" cy="198.6" r="1.2" fill="#619CFF"/>
<circle cx="114.78" cy="207" r="1.2" fill="#619CFF"/>
<circle cx="114.78" cy="203.4" r="1.6" fill="#619CFF"/>
<path d="M114.78 200.25L117.33 202.8L114.78 205.35L112.23 202.8Z" fill="#000"/>
<line x1="125.73" y1="187.2" x2="125.73" y2="190" stroke="#C77CFF" stroke-width="0.7"/>
<line x1="125.73" y1="199.5" x2="125.73" y2="202.8" stroke="#C77CFF" stroke-width="0.7"/>
<path d="M123.68 190L123.68 194.7L124.7 194.7L123.68 194.7L123.68 199.5L127.78 199.5L127.78 194.7L126.75 194.7L127.78 194.7L127.78 190Z" fill="#fff" fill-opacity="0.9" stroke="#C77CFF" stroke-opacity="0.8" stroke-width="0.65" stroke-linejoin="round"/>
<line x1="123.68" y1="194.7" x2="127.78" y2="194.7" stroke="#C77CFF" stroke-opacity="0.8" stroke-width="0.65"/>
<circle cx="125.73" cy="187.2" r="1.2" fill="#C77CFF"/>
<circle cx="125.73" cy="202.8" r="1.2" fill="#C77CFF"/>
<circle cx="125.73" cy="195.3" r="1.6" fill="#C77CFF"/>
<path d="M125.73 192.15L128.28 194.7L125.73 197.25L123.18 194.7Z" fill="#000"/>
<line x1="136.68" y1="223.1" x2="136.68" y2="234.6" stroke="#F564E3" stroke-width="0.7"/>
<line x1="136.68" y1="256.5" x2="136.68" y2="268" stroke="#F564E3" stroke-width="0.7"/>
<path d="M134.63 234.6L134.63 245.6L135.65 245.6L134.63 245.6L134.63 256.5L138.73 256.5L138.73 245.6L137.7 245.6L138.73 245.6L138.73 234.6Z" fill="#fff" fill-opacity="0.9" stroke="#F564E3" stroke-opacity="0.8" stroke-width="0.65" stroke-linejoin="round"/>
<line x1="134.63" y1="245.6" x2="138.73" y2="245.6" stroke="#F564E3" stroke-opacity="0.8" stroke-width="0.65"/>
<circle cx="136.68" cy="223.1" r="1.2" fill="#F564E3"/>
<circle cx="136.68" cy="268" r="1.2" fill="#F564E3"/>
<circle cx="136.68" cy="246.2" r="1.6" fill="#F564E3"/>
<path d="M136.68 243.05L139.23 245.6L136.68 248.15L134.13 245.6Z" fill="#000"/>
<line x1="147.63" y1="157" x2="147.63" y2="160.5" stroke="#FF64B0" stroke-width="0.7"/>
<line x1="147.63" y1="168.5" x2="147.63" y2="171.9" stroke="#FF64B0" stroke-width="0.7"/>
<path d="M145.58 160.5L145.58 164.5L146.6 164.5L145.58 164.5L145.58 168.5L149.68 168.5L149.68 164.5L148.65 164.5L149.68 164.5L149.68 160.5Z" fill="#fff" fill-opacity="0.9" stroke="#FF64B0" stroke-opacity="0.8" stroke-width="0.65" stroke-linejoin="round"/>
<line x1="145.58" y1="164.5" x2="149.68" y2="164.5" stroke="#FF64B0" stroke-opacity="0.8" stroke-width="0.65"/>
<circle cx="147.63" cy="157" r="1.2" fill="#FF64B0"/>
<circle cx="147.63" cy="171.9" r="1.2" fill="#FF64B0"/>
<circle cx="147.63" cy="165.1" r="1.6" fill="#FF64B0"/>
<path d="M147.63 161.95L150.18 164.5L147.63 167.05L145.08 164.5Z" fill="#000"/>
<text transform="translate(7.2,211.9) rotate(-90)" text-anchor="middle" class="yl" font-size="6.87">Alpha-diversity Index: Shannon</text>
<text x="24.7" y="257.95" class="pv"><tspan font-style="italic">P</tspan>-value: 0.110</text>
<text x="24.7" y="265.95" class="pv"><tspan font-style="italic">H</tspan>: 16.94</text>
<line x1="182.5" y1="254" x2="315.4" y2="254" stroke="#ececec" stroke-width="0.5"/>
<line x1="182.5" y1="224.75" x2="315.4" y2="224.75" stroke="#ececec" stroke-width="0.5"/>
<line x1="182.5" y1="195.5" x2="315.4" y2="195.5" stroke="#ececec" stroke-width="0.5"/>
<line x1="182.5" y1="166.3" x2="315.4" y2="166.3" stroke="#ececec" stroke-width="0.5"/>
<line x1="182.5" y1="268.6" x2="315.4" y2="268.6" stroke="#ececec" stroke-width="0.8"/>
<line x1="182.5" y1="239.4" x2="315.4" y2="239.4" stroke="#ececec" stroke-width="0.8"/>
<line x1="182.5" y1="210.1" x2="315.4" y2="210.1" stroke="#ececec" stroke-width="0.8"/>
<line x1="182.5" y1="180.9" x2="315.4" y2="180.9" stroke="#ececec" stroke-width="0.8"/>
<line x1="189.04" y1="152" x2="189.04" y2="273.2" stroke="#ececec" stroke-width="0.8"/>
<line x1="199.93" y1="152" x2="199.93" y2="273.2" stroke="#ececec" stroke-width="0.8"/>
<line x1="210.82" y1="152" x2="210.82" y2="273.2" stroke="#ececec" stroke-width="0.8"/>
<line x1="221.72" y1="152" x2="221.72" y2="273.2" stroke="#ececec" stroke-width="0.8"/>
<line x1="232.61" y1="152" x2="232.61" y2="273.2" stroke="#ececec" stroke-width="0.8"/>
<line x1="243.5" y1="152" x2="243.5" y2="273.2" stroke="#ececec" stroke-width="0.8"/>
<line x1="254.4" y1="152" x2="254.4" y2="273.2" stroke="#ececec" stroke-width="0.8"/>
<line x1="265.29" y1="152" x2="265.29" y2="273.2" stroke="#ececec" stroke-width="0.8"/>
<line x1="276.18" y1="152" x2="276.18" y2="273.2" stroke="#ececec" stroke-width="0.8"/>
<line x1="287.08" y1="152" x2="287.08" y2="273.2" stroke="#ececec" stroke-width="0.8"/>
<line x1="297.97" y1="152" x2="297.97" y2="273.2" stroke="#ececec" stroke-width="0.8"/>
<line x1="308.86" y1="152" x2="308.86" y2="273.2" stroke="#ececec" stroke-width="0.8"/>
<line x1="182.5" y1="152" x2="315.4" y2="152" stroke="#dcdcdc" stroke-width="0.8"/>
<line x1="315.4" y1="152" x2="315.4" y2="274" stroke="#9a9a9a" stroke-width="1.4"/>
<line x1="182.5" y1="152" x2="182.5" y2="274" stroke="#9a9a9a" stroke-width="1.4"/>
<line x1="181.7" y1="273.2" x2="316.2" y2="273.2" stroke="#9a9a9a" stroke-width="1.4"/>
<line x1="179.9" y1="268.6" x2="182.5" y2="268.6" stroke="#9a9a9a" stroke-width="0.8"/>
<text transform="translate(179.7,271.05) scale(1,1.15)" class="tk">1.0</text>
<line x1="179.9" y1="239.4" x2="182.5" y2="239.4" stroke="#9a9a9a" stroke-width="0.8"/>
<text transform="translate(179.7,241.85) scale(1,1.15)" class="tk">1.5</text>
<line x1="179.9" y1="210.1" x2="182.5" y2="210.1" stroke="#9a9a9a" stroke-width="0.8"/>
<text transform="translate(179.7,212.55) scale(1,1.15)" class="tk">2.0</text>
<line x1="179.9" y1="180.9" x2="182.5" y2="180.9" stroke="#9a9a9a" stroke-width="0.8"/>
<text transform="translate(179.7,183.35) scale(1,1.15)" class="tk">2.5</text>
<line x1="189.04" y1="273.2" x2="189.04" y2="274.8" stroke="#9a9a9a" stroke-width="0.8"/>
<line x1="199.93" y1="273.2" x2="199.93" y2="274.8" stroke="#9a9a9a" stroke-width="0.8"/>
<line x1="210.82" y1="273.2" x2="210.82" y2="274.8" stroke="#9a9a9a" stroke-width="0.8"/>
<line x1="221.72" y1="273.2" x2="221.72" y2="274.8" stroke="#9a9a9a" stroke-width="0.8"/>
<line x1="232.61" y1="273.2" x2="232.61" y2="274.8" stroke="#9a9a9a" stroke-width="0.8"/>
<line x1="243.5" y1="273.2" x2="243.5" y2="274.8" stroke="#9a9a9a" stroke-width="0.8"/>
<line x1="254.4" y1="273.2" x2="254.4" y2="274.8" stroke="#9a9a9a" stroke-width="0.8"/>
<line x1="265.29" y1="273.2" x2="265.29" y2="274.8" stroke="#9a9a9a" stroke-width="0.8"/>
<line x1="276.18" y1="273.2" x2="276.18" y2="274.8" stroke="#9a9a9a" stroke-width="0.8"/>
<line x1="287.08" y1="273.2" x2="287.08" y2="274.8" stroke="#9a9a9a" stroke-width="0.8"/>
<line x1="297.97" y1="273.2" x2="297.97" y2="274.8" stroke="#9a9a9a" stroke-width="0.8"/>
<line x1="308.86" y1="273.2" x2="308.86" y2="274.8" stroke="#9a9a9a" stroke-width="0.8"/>
<circle cx="189.04" cy="184.6" r="1.6" fill="#F8766D"/>
<circle cx="189.04" cy="184" r="2.35" fill="#F8766D" fill-opacity="0.6"/>
<path d="M189.04 181.45L191.59 184L189.04 186.55L186.49 184Z" fill="#000"/>
<circle cx="199.93" cy="194.6" r="1.6" fill="#DE8C00"/>
<circle cx="199.93" cy="194" r="2.35" fill="#DE8C00" fill-opacity="0.6"/>
<path d="M199.93 191.45L202.48 194L199.93 196.55L197.38 194Z" fill="#000"/>
<line x1="210.82" y1="172.7" x2="210.82" y2="180.3" stroke="#B79F00" stroke-width="0.7"/>
<line x1="210.82" y1="194.1" x2="210.82" y2="201.6" stroke="#B79F00" stroke-width="0.7"/>
<path d="M208.77 180.3L208.77 187L209.8 187L208.77 187L208.77 194.1L212.87 194.1L212.87 187L211.85 187L212.87 187L212.87 180.3Z" fill="#fff" fill-opacity="0.9" stroke="#B79F00" stroke-opacity="0.8" stroke-width="0.65" stroke-linejoin="round"/>
<line x1="208.77" y1="187" x2="212.87" y2="187" stroke="#B79F00" stroke-opacity="0.8" stroke-width="0.65"/>
<circle cx="210.82" cy="172.7" r="1.2" fill="#B79F00"/>
<circle cx="210.82" cy="201.6" r="1.2" fill="#B79F00"/>
<circle cx="210.82" cy="187.6" r="1.6" fill="#B79F00"/>
<path d="M210.82 184.45L213.37 187L210.82 189.55L208.27 187Z" fill="#000"/>
<line x1="221.72" y1="157.5" x2="221.72" y2="161" stroke="#7CAE00" stroke-width="0.7"/>
<line x1="221.72" y1="167.5" x2="221.72" y2="171" stroke="#7CAE00" stroke-width="0.7"/>
<path d="M219.67 161L219.67 164.2L220.69 164.2L219.67 164.2L219.67 167.5L223.77 167.5L223.77 164.2L222.74 164.2L223.77 164.2L223.77 161Z" fill="#fff" fill-opacity="0.9" stroke="#7CAE00" stroke-opacity="0.8" stroke-width="0.65" stroke-linejoin="round"/>
<line x1="219.67" y1="164.2" x2="223.77" y2="164.2" stroke="#7CAE00" stroke-opacity="0.8" stroke-width="0.65"/>
<circle cx="221.72" cy="157.5" r="1.2" fill="#7CAE00"/>
<circle cx="221.72" cy="171" r="1.2" fill="#7CAE00"/>
<circle cx="221.72" cy="164.8" r="1.6" fill="#7CAE00"/>
<path d="M221.72 161.65L224.27 164.2L221.72 166.75L219.17 164.2Z" fill="#000"/>
<line x1="232.61" y1="179.6" x2="232.61" y2="181.5" stroke="#00BA38" stroke-width="0.7"/>
<line x1="232.61" y1="185.5" x2="232.61" y2="187.5" stroke="#00BA38" stroke-width="0.7"/>
<path d="M230.56 181.5L230.56 183.8L231.58 183.8L230.56 183.8L230.56 185.5L234.66 185.5L234.66 183.8L233.63 183.8L234.66 183.8L234.66 181.5Z" fill="#fff" fill-opacity="0.9" stroke="#00BA38" stroke-opacity="0.8" stroke-width="0.65" stroke-linejoin="round"/>
<line x1="230.56" y1="183.8" x2="234.66" y2="183.8" stroke="#00BA38" stroke-opacity="0.8" stroke-width="0.65"/>
<circle cx="232.61" cy="179.6" r="1.2" fill="#00BA38"/>
<circle cx="232.61" cy="187.5" r="1.2" fill="#00BA38"/>
<circle cx="232.61" cy="184.4" r="1.6" fill="#00BA38"/>
<path d="M232.61 181.25L235.16 183.8L232.61 186.35L230.06 183.8Z" fill="#000"/>
<line x1="243.5" y1="171" x2="243.5" y2="174.5" stroke="#00C08B" stroke-width="0.7"/>
<line x1="243.5" y1="181.5" x2="243.5" y2="185" stroke="#00C08B" stroke-width="0.7"/>
<path d="M241.45 174.5L241.45 178.1L242.48 178.1L241.45 178.1L241.45 181.5L245.55 181.5L245.55 178.1L244.53 178.1L245.55 178.1L245.55 174.5Z" fill="#fff" fill-opacity="0.9" stroke="#00C08B" stroke-opacity="0.8" stroke-width="0.65" stroke-linejoin="round"/>
<line x1="241.45" y1="178.1" x2="245.55" y2="178.1" stroke="#00C08B" stroke-opacity="0.8" stroke-width="0.65"/>
<circle cx="243.5" cy="171" r="1.2" fill="#00C08B"/>
<circle cx="243.5" cy="185" r="1.2" fill="#00C08B"/>
<circle cx="243.5" cy="178.7" r="1.6" fill="#00C08B"/>
<path d="M243.5 175.55L246.05 178.1L243.5 180.65L240.95 178.1Z" fill="#000"/>
<line x1="254.4" y1="197" x2="254.4" y2="198.3" stroke="#00BFC4" stroke-width="0.7"/>
<line x1="254.4" y1="200.8" x2="254.4" y2="202" stroke="#00BFC4" stroke-width="0.7"/>
<path d="M252.35 198.3L252.35 199.5L253.37 199.5L252.35 199.5L252.35 200.8L256.45 200.8L256.45 199.5L255.42 199.5L256.45 199.5L256.45 198.3Z" fill="#fff" fill-opacity="0.9" stroke="#00BFC4" stroke-opacity="0.8" stroke-width="0.65" stroke-linejoin="round"/>
<line x1="252.35" y1="199.5" x2="256.45" y2="199.5" stroke="#00BFC4" stroke-opacity="0.8" stroke-width="0.65"/>
<circle cx="254.4" cy="197" r="1.2" fill="#00BFC4"/>
<circle cx="254.4" cy="202" r="1.2" fill="#00BFC4"/>
<circle cx="254.4" cy="200.1" r="1.6" fill="#00BFC4"/>
<path d="M254.4 196.95L256.95 199.5L254.4 202.05L251.85 199.5Z" fill="#000"/>
<line x1="265.29" y1="178.75" x2="265.29" y2="190.8" stroke="#00B4F0" stroke-width="0.7"/>
<line x1="265.29" y1="213.6" x2="265.29" y2="226" stroke="#00B4F0" stroke-width="0.7"/>
<path d="M263.24 190.8L263.24 202.2L264.27 202.2L263.24 202.2L263.24 213.6L267.34 213.6L267.34 202.2L266.32 202.2L267.34 202.2L267.34 190.8Z" fill="#fff" fill-opacity="0.9" stroke="#00B4F0" stroke-opacity="0.8" stroke-width="0.65" stroke-linejoin="round"/>
<line x1="263.24" y1="202.2" x2="267.34" y2="202.2" stroke="#00B4F0" stroke-opacity="0.8" stroke-width="0.65"/>
<circle cx="265.29" cy="178.75" r="1.2" fill="#00B4F0"/>
<circle cx="265.29" cy="226" r="1.2" fill="#00B4F0"/>
<circle cx="265.29" cy="202.8" r="1.6" fill="#00B4F0"/>
<path d="M265.29 199.65L267.84 202.2L265.29 204.75L262.74 202.2Z" fill="#000"/>
<circle cx="276.18" cy="214.2" r="1.6" fill="#619CFF"/>
<path d="M276.18 211.05L278.73 213.6L276.18 216.15L273.63 213.6Z" fill="#000"/>
<line x1="287.08" y1="186.7" x2="287.08" y2="191.4" stroke="#C77CFF" stroke-width="0.7"/>
<line x1="287.08" y1="200.5" x2="287.08" y2="206" stroke="#C77CFF" stroke-width="0.7"/>
<path d="M285.03 191.4L285.03 196L286.05 196L285.03 196L285.03 200.5L289.13 200.5L289.13 196L288.1 196L289.13 196L289.13 191.4Z" fill="#fff" fill-opacity="0.9" stroke="#C77CFF" stroke-opacity="0.8" stroke-width="0.65" stroke-linejoin="round"/>
<line x1="285.03" y1="196" x2="289.13" y2="196" stroke="#C77CFF" stroke-opacity="0.8" stroke-width="0.65"/>
<circle cx="287.08" cy="186.7" r="1.2" fill="#C77CFF"/>
<circle cx="287.08" cy="206" r="1.2" fill="#C77CFF"/>
<circle cx="287.08" cy="196.6" r="1.6" fill="#C77CFF"/>
<path d="M287.08 193.45L289.63 196L287.08 198.55L284.53 196Z" fill="#000"/>
<line x1="297.97" y1="229.8" x2="297.97" y2="239.25" stroke="#F564E3" stroke-width="0.7"/>
<line x1="297.97" y1="257.8" x2="297.97" y2="267.25" stroke="#F564E3" stroke-width="0.7"/>
<path d="M295.92 239.25L295.92 248.3L296.95 248.3L295.92 248.3L295.92 257.8L300.02 257.8L300.02 248.3L299 248.3L300.02 248.3L300.02 239.25Z" fill="#fff" fill-opacity="0.9" stroke="#F564E3" stroke-opacity="0.8" stroke-width="0.65" stroke-linejoin="round"/>
<line x1="295.92" y1="248.3" x2="300.02" y2="248.3" stroke="#F564E3" stroke-opacity="0.8" stroke-width="0.65"/>
<circle cx="297.97" cy="229.8" r="1.2" fill="#F564E3"/>
<circle cx="297.97" cy="267.25" r="1.2" fill="#F564E3"/>
<circle cx="297.97" cy="248.9" r="1.6" fill="#F564E3"/>
<path d="M297.97 245.75L300.52 248.3L297.97 250.85L295.42 248.3Z" fill="#000"/>
<line x1="308.86" y1="157" x2="308.86" y2="161.7" stroke="#FF64B0" stroke-width="0.7"/>
<line x1="308.86" y1="171.9" x2="308.86" y2="175.3" stroke="#FF64B0" stroke-width="0.7"/>
<path d="M306.81 161.7L306.81 166.1L307.84 166.1L306.81 166.1L306.81 171.9L310.91 171.9L310.91 166.1L309.89 166.1L310.91 166.1L310.91 161.7Z" fill="#fff" fill-opacity="0.9" stroke="#FF64B0" stroke-opacity="0.8" stroke-width="0.65" stroke-linejoin="round"/>
<line x1="306.81" y1="166.1" x2="310.91" y2="166.1" stroke="#FF64B0" stroke-opacity="0.8" stroke-width="0.65"/>
<circle cx="308.86" cy="157" r="1.2" fill="#FF64B0"/>
<circle cx="308.86" cy="175.3" r="1.2" fill="#FF64B0"/>
<circle cx="308.86" cy="166.7" r="1.6" fill="#FF64B0"/>
<path d="M308.86 163.55L311.41 166.1L308.86 168.65L306.31 166.1Z" fill="#000"/>
<text transform="translate(170,212) rotate(-90)" text-anchor="middle" class="yl" font-size="6.87">Alpha-diversity Index: Shannon</text>
<text x="188.1" y="259.35" class="pv"><tspan font-style="italic">P</tspan>-value: 0.091</text>
<text x="188.1" y="267.65" class="pv"><tspan font-style="italic">H</tspan>: 17.42</text>
<text transform="translate(29.77,279.5) rotate(-45)" text-anchor="end" class="xl">CanvaxSoil</text>
<text transform="translate(40.72,279.5) rotate(-45)" text-anchor="end" class="xl">CanvaxTissue</text>
<text transform="translate(51.67,279.5) rotate(-45)" text-anchor="end" class="xl">CTAB</text>
<text transform="translate(62.62,279.5) rotate(-45)" text-anchor="end" class="xl">NorgenMicrobiomeV1</text>
<text transform="translate(73.57,279.5) rotate(-45)" text-anchor="end" class="xl">NorgenMicrobiomeV2</text>
<text transform="translate(84.52,279.5) rotate(-45)" text-anchor="end" class="xl">NucleoSpinPL1</text>
<text transform="translate(95.48,279.5) rotate(-45)" text-anchor="end" class="xl">NucleoSpinPL2</text>
<text transform="translate(106.43,279.5) rotate(-45)" text-anchor="end" class="xl">PowerLyzer</text>
<text transform="translate(117.38,279.5) rotate(-45)" text-anchor="end" class="xl">PowerPlant</text>
<text transform="translate(128.33,279.5) rotate(-45)" text-anchor="end" class="xl">PowerSoil</text>
<text transform="translate(139.28,279.5) rotate(-45)" text-anchor="end" class="xl">PureLink</text>
<text transform="translate(150.23,279.5) rotate(-45)" text-anchor="end" class="xl">Quickpick</text>
<text transform="translate(191.64,279.2) rotate(-45)" text-anchor="end" class="xl">CanvaxSoil</text>
<text transform="translate(202.53,279.2) rotate(-45)" text-anchor="end" class="xl">CanvaxTissue</text>
<text transform="translate(213.42,279.2) rotate(-45)" text-anchor="end" class="xl">CTAB</text>
<text transform="translate(224.32,279.2) rotate(-45)" text-anchor="end" class="xl">NorgenMicrobiomeV1</text>
<text transform="translate(235.21,279.2) rotate(-45)" text-anchor="end" class="xl">NorgenMicrobiomeV2</text>
<text transform="translate(246.1,279.2) rotate(-45)" text-anchor="end" class="xl">NucleoSpinPL1</text>
<text transform="translate(257,279.2) rotate(-45)" text-anchor="end" class="xl">NucleoSpinPL2</text>
<text transform="translate(267.89,279.2) rotate(-45)" text-anchor="end" class="xl">PowerLyzer</text>
<text transform="translate(278.78,279.2) rotate(-45)" text-anchor="end" class="xl">PowerPlant</text>
<text transform="translate(289.68,279.2) rotate(-45)" text-anchor="end" class="xl">PowerSoil</text>
<text transform="translate(300.57,279.2) rotate(-45)" text-anchor="end" class="xl">PureLink</text>
<text transform="translate(311.46,279.2) rotate(-45)" text-anchor="end" class="xl">Quickpick</text>
<text transform="translate(45.2,10.15) scale(1.01,0.945)" class="ti">Greengenes 13-8</text>
<text transform="translate(221,10.15) scale(1.01,0.945)" class="ti">Silva 132</text>
<rect x="321.3" y="81.4" width="76.8" height="117.6" rx="1" fill="#fff" stroke="#6a6a6a" stroke-width="1.15"/>
<text transform="translate(325.6,91.6) scale(1,1.09)" class="lg">CLASS</text>
<rect x="326.5" y="96.25" width="6.8" height="4.4" fill="#F8766D" fill-opacity="0.3" stroke="#F8766D" stroke-width="0.6"/>
<line x1="329.9" y1="95.45" x2="329.9" y2="101.45" stroke="#F8766D" stroke-width="0.6"/>
<line x1="326.8" y1="98.45" x2="333" y2="98.45" stroke="#F8766D" stroke-width="0.6"/>
<circle cx="329.9" cy="98.45" r="1.1" fill="#F8766D"/>
<text transform="translate(336.3,100.45) scale(1,1.15)" class="lg">CanvaxSoil</text>
<rect x="326.5" y="104.4" width="6.8" height="4.4" fill="#DE8C00" fill-opacity="0.3" stroke="#DE8C00" stroke-width="0.6"/>
<line x1="329.9" y1="103.6" x2="329.9" y2="109.6" stroke="#DE8C00" stroke-width="0.6"/>
<line x1="326.8" y1="106.6" x2="333" y2="106.6" stroke="#DE8C00" stroke-width="0.6"/>
<circle cx="329.9" cy="106.6" r="1.1" fill="#DE8C00"/>
<text transform="translate(336.3,108.6) scale(1,1.15)" class="lg">CanvaxTissue</text>
<rect x="326.5" y="112.55" width="6.8" height="4.4" fill="#B79F00" fill-opacity="0.3" stroke="#B79F00" stroke-width="0.6"/>
<line x1="329.9" y1="111.75" x2="329.9" y2="117.75" stroke="#B79F00" stroke-width="0.6"/>
<line x1="326.8" y1="114.75" x2="333" y2="114.75" stroke="#B79F00" stroke-width="0.6"/>
<circle cx="329.9" cy="114.75" r="1.1" fill="#B79F00"/>
<text transform="translate(336.3,116.75) scale(1,1.15)" class="lg">CTAB</text>
<rect x="326.5" y="120.7" width="6.8" height="4.4" fill="#7CAE00" fill-opacity="0.3" stroke="#7CAE00" stroke-width="0.6"/>
<line x1="329.9" y1="119.9" x2="329.9" y2="125.9" stroke="#7CAE00" stroke-width="0.6"/>
<line x1="326.8" y1="122.9" x2="333" y2="122.9" stroke="#7CAE00" stroke-width="0.6"/>
<circle cx="329.9" cy="122.9" r="1.1" fill="#7CAE00"/>
<text transform="translate(336.3,124.9) scale(1,1.15)" class="lg">NorgenMicrobiomeV1</text>
<rect x="326.5" y="128.85" width="6.8" height="4.4" fill="#00BA38" fill-opacity="0.3" stroke="#00BA38" stroke-width="0.6"/>
<line x1="329.9" y1="128.05" x2="329.9" y2="134.05" stroke="#00BA38" stroke-width="0.6"/>
<line x1="326.8" y1="131.05" x2="333" y2="131.05" stroke="#00BA38" stroke-width="0.6"/>
<circle cx="329.9" cy="131.05" r="1.1" fill="#00BA38"/>
<text transform="translate(336.3,133.05) scale(1,1.15)" class="lg">NorgenMicrobiomeV2</text>
<rect x="326.5" y="137" width="6.8" height="4.4" fill="#00C08B" fill-opacity="0.3" stroke="#00C08B" stroke-width="0.6"/>
<line x1="329.9" y1="136.2" x2="329.9" y2="142.2" stroke="#00C08B" stroke-width="0.6"/>
<line x1="326.8" y1="139.2" x2="333" y2="139.2" stroke="#00C08B" stroke-width="0.6"/>
<circle cx="329.9" cy="139.2" r="1.1" fill="#00C08B"/>
<text transform="translate(336.3,141.2) scale(1,1.15)" class="lg">NucleoSpinPL1</text>
<rect x="326.5" y="145.15" width="6.8" height="4.4" fill="#00BFC4" fill-opacity="0.3" stroke="#00BFC4" stroke-width="0.6"/>
<line x1="329.9" y1="144.35" x2="329.9" y2="150.35" stroke="#00BFC4" stroke-width="0.6"/>
<line x1="326.8" y1="147.35" x2="333" y2="147.35" stroke="#00BFC4" stroke-width="0.6"/>
<circle cx="329.9" cy="147.35" r="1.1" fill="#00BFC4"/>
<text transform="translate(336.3,149.35) scale(1,1.15)" class="lg">NucleoSpinPL2</text>
<rect x="326.5" y="153.3" width="6.8" height="4.4" fill="#00B4F0" fill-opacity="0.3" stroke="#00B4F0" stroke-width="0.6"/>
<line x1="329.9" y1="152.5" x2="329.9" y2="158.5" stroke="#00B4F0" stroke-width="0.6"/>
<line x1="326.8" y1="155.5" x2="333" y2="155.5" stroke="#00B4F0" stroke-width="0.6"/>
<circle cx="329.9" cy="155.5" r="1.1" fill="#00B4F0"/>
<text transform="translate(336.3,157.5) scale(1,1.15)" class="lg">PowerLyzer</text>
<rect x="326.5" y="161.45" width="6.8" height="4.4" fill="#619CFF" fill-opacity="0.3" stroke="#619CFF" stroke-width="0.6"/>
<line x1="329.9" y1="160.65" x2="329.9" y2="166.65" stroke="#619CFF" stroke-width="0.6"/>
<line x1="326.8" y1="163.65" x2="333" y2="163.65" stroke="#619CFF" stroke-width="0.6"/>
<circle cx="329.9" cy="163.65" r="1.1" fill="#619CFF"/>
<text transform="translate(336.3,165.65) scale(1,1.15)" class="lg">PowerPlant</text>
<rect x="326.5" y="169.6" width="6.8" height="4.4" fill="#C77CFF" fill-opacity="0.3" stroke="#C77CFF" stroke-width="0.6"/>
<line x1="329.9" y1="168.8" x2="329.9" y2="174.8" stroke="#C77CFF" stroke-width="0.6"/>
<line x1="326.8" y1="171.8" x2="333" y2="171.8" stroke="#C77CFF" stroke-width="0.6"/>
<circle cx="329.9" cy="171.8" r="1.1" fill="#C77CFF"/>
<text transform="translate(336.3,173.8) scale(1,1.15)" class="lg">PowerSoil</text>
<rect x="326.5" y="177.75" width="6.8" height="4.4" fill="#F564E3" fill-opacity="0.3" stroke="#F564E3" stroke-width="0.6"/>
<line x1="329.9" y1="176.95" x2="329.9" y2="182.95" stroke="#F564E3" stroke-width="0.6"/>
<line x1="326.8" y1="179.95" x2="333" y2="179.95" stroke="#F564E3" stroke-width="0.6"/>
<circle cx="329.9" cy="179.95" r="1.1" fill="#F564E3"/>
<text transform="translate(336.3,181.95) scale(1,1.15)" class="lg">PureLink</text>
<rect x="326.5" y="185.9" width="6.8" height="4.4" fill="#FF64B0" fill-opacity="0.3" stroke="#FF64B0" stroke-width="0.6"/>
<line x1="329.9" y1="185.1" x2="329.9" y2="191.1" stroke="#FF64B0" stroke-width="0.6"/>
<line x1="326.8" y1="188.1" x2="333" y2="188.1" stroke="#FF64B0" stroke-width="0.6"/>
<circle cx="329.9" cy="188.1" r="1.1" fill="#FF64B0"/>
<text transform="translate(336.3,190.1) scale(1,1.15)" class="lg">Quickpick</text>
</svg>
</body></html>
